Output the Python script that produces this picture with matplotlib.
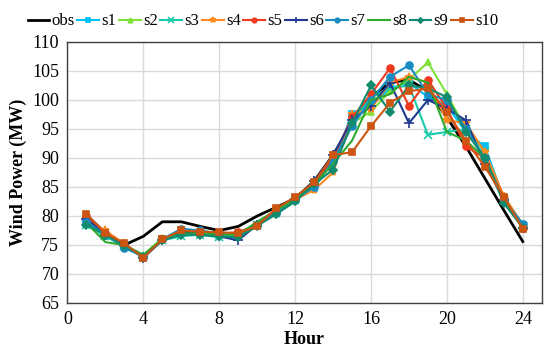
import matplotlib
matplotlib.use("Agg")
import matplotlib.pyplot as plt

hours = list(range(1, 25))
obs = [80.2, 77.0, 75.0, 76.5, 79.0, 79.0, 78.2, 77.5, 78.2, 80.0, 81.5, 83.0,
       86.0, 90.5, 96.0, 100.5, 103.0, 103.5, 101.5, 97.0, 92.0, 86.5, 81.0, 75.6]
s1 = [79.5, 77.0, 75.0, 73.0, 76.0, 77.5, 77.0, 76.8, 76.5, 78.5, 80.5, 82.8,
      84.8, 89.5, 97.5, 99.0, 102.0, 103.0, 100.5, 99.0, 94.5, 92.0, 83.0, 78.5]
s2 = [79.0, 76.5, 74.8, 73.3, 76.2, 77.2, 77.0, 76.8, 76.8, 78.5, 80.5, 82.8,
      85.0, 89.5, 96.0, 98.0, 101.5, 103.5, 106.5, 101.0, 95.0, 90.0, 82.5, 78.0]
s3 = [78.5, 76.5, 74.8, 73.0, 75.8, 76.5, 76.8, 76.3, 76.5, 78.5, 80.5, 82.8,
      85.5, 89.5, 96.0, 100.5, 102.0, 102.5, 94.0, 94.5, 95.0, 91.0, 82.8, 78.2]
s4 = [79.5, 77.5, 75.2, 72.8, 76.0, 77.2, 77.0, 76.8, 77.0, 78.5, 80.8, 82.8,
      84.5, 87.5, 97.5, 98.5, 103.0, 104.0, 103.0, 96.5, 96.0, 91.0, 83.5, 78.5]
s5 = [80.0, 77.0, 75.0, 73.0, 76.0, 77.3, 77.2, 77.0, 77.2, 78.5, 81.0, 83.0,
      85.5, 90.0, 97.0, 101.0, 105.5, 99.0, 103.5, 98.5, 92.0, 90.0, 83.0, 78.0]
s6 = [79.5, 76.8, 75.0, 72.8, 75.8, 77.3, 77.0, 76.5, 75.8, 78.5, 80.5, 83.0,
      86.0, 90.5, 96.5, 99.0, 103.0, 96.0, 100.0, 98.5, 96.5, 89.0, 82.8, 78.0]
s7 = [79.0, 76.8, 74.5, 73.0, 76.0, 77.8, 77.5, 77.0, 76.8, 78.5, 80.5, 82.8,
      85.0, 89.5, 95.5, 100.0, 104.0, 106.0, 101.0, 100.0, 95.0, 90.0, 82.8, 78.7]
s8 = [78.8, 75.5, 75.0, 73.3, 76.0, 77.0, 77.0, 76.8, 76.8, 79.0, 81.0, 82.8,
      85.5, 89.0, 93.0, 100.0, 101.0, 104.0, 103.0, 94.5, 93.0, 90.0, 82.5, 78.0]
s9 = [78.5, 76.8, 74.8, 73.0, 75.8, 76.8, 76.7, 76.5, 76.3, 78.3, 80.3, 82.5,
      85.5, 88.0, 96.0, 102.5, 98.0, 102.5, 102.0, 100.5, 94.5, 90.0, 82.2, 78.0]
s10 = [80.3, 77.0, 75.3, 72.8, 76.0, 77.5, 77.3, 77.2, 77.0, 78.3, 81.3, 83.3,
       85.8, 90.5, 91.0, 95.5, 99.5, 101.5, 102.0, 98.0, 93.0, 88.5, 83.3, 77.8]

labels = ["s1", "s2", "s3", "s4", "s5", "s6", "s7", "s8", "s9", "s10"]
series = [s1, s2, s3, s4, s5, s6, s7, s8, s9, s10]
colors = ["#00BFF3", "#7FE03A", "#1ACBAA", "#FF8A1F", "#F2381E",
          "#1F3A93", "#1A8CC4", "#2EAA2E", "#128A6E", "#CC5511"]
markers = ["s", "^", "x", "*", "o", "+", "o", None, "D", "s"]
msizes = [5, 5, 6, 6, 5, 7, 5, 4, 4, 5]

plt.rcParams['font.family'] = ['Liberation Serif', 'DejaVu Serif']

fig = plt.figure(figsize=(5.5, 3.63), dpi=100)
ax = fig.add_axes([0.1227, 0.1653, 0.8623, 0.719])

ax.plot(hours, obs, color="black", lw=2.0, label="obs", zorder=3)
for lab, ys, c, m, ms in zip(labels, series, colors, markers, msizes):
    ax.plot(hours, ys, color=c, lw=1.5, marker=m, markersize=ms,
            markeredgewidth=1.2, label=lab, zorder=4)

ax.set_xlim(0, 25)
ax.set_ylim(65, 110)
ax.set_xticks([0, 4, 8, 12, 16, 20, 24])
ax.set_yticks(range(65, 111, 5))
ax.grid(True, color="#D9D9D9", lw=1.0)
ax.set_axisbelow(True)
ax.tick_params(length=0, labelsize=13, pad=6)
for sp in ax.spines.values():
    sp.set_color("#404040")
    sp.set_linewidth(1.0)

ax.set_xlabel("Hour", fontsize=13, fontweight="bold", labelpad=2)
ax.set_ylabel("Wind Power (MW)", fontsize=13, fontweight="bold", labelpad=4)

leg = fig.legend(loc="upper center", bbox_to_anchor=(0.478, 0.995), ncol=11,
                 frameon=False, fontsize=12, handlelength=1.3, handletextpad=0.15,
                 columnspacing=0.15, borderaxespad=0.3, markerscale=0.65)

fig.savefig("out.png", dpi=100)
